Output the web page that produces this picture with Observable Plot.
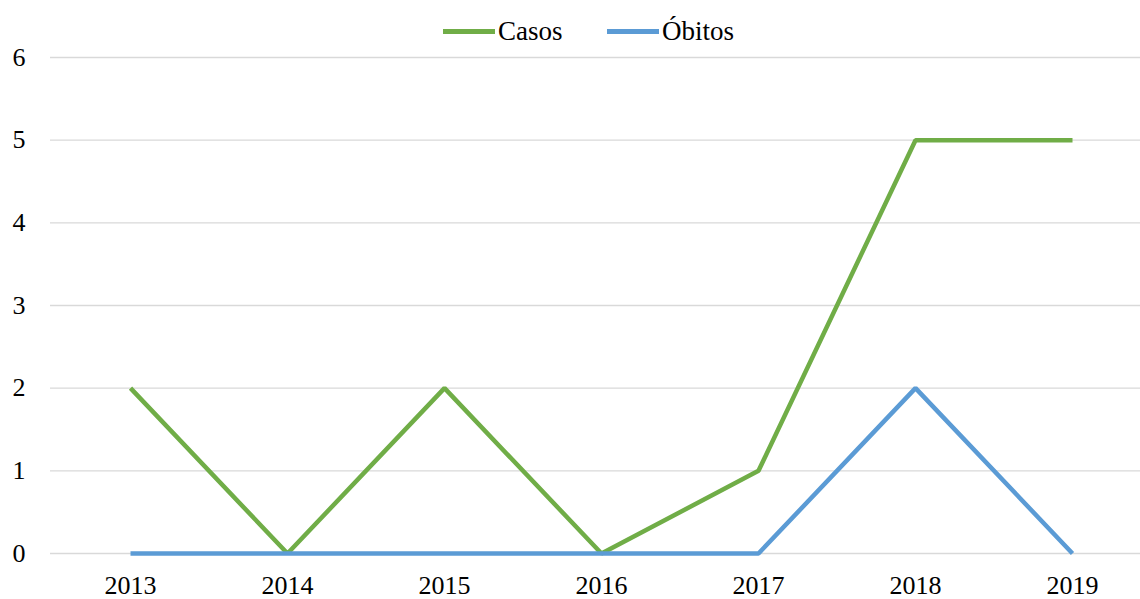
<!DOCTYPE html>
<html>
<head>
<meta charset="utf-8">
<script src="https://cdn.jsdelivr.net/npm/d3@7"></script>
<script src="https://cdn.jsdelivr.net/npm/@observablehq/plot@0.6"></script>
<style>
  html, body { margin: 0; padding: 0; background: #fff; }
  #wrap { position: relative; width: 1140px; height: 599px; font-family: "Liberation Serif", "Times New Roman", serif; }
  #legend { position: absolute; left: 0; top: 0; width: 1140px; height: 40px; }
  .item { position: absolute; top: 15px; display: flex; align-items: center; font-size: 27px; color: #000; line-height: 32px; }
  .swatch { display: inline-block; width: 52px; height: 5px; margin-right: 3px; }
</style>
</head>
<body>
<div id="wrap">
  <div id="chart"></div>
  <div id="legend"></div>
</div>
<script>
const years = ["2013", "2014", "2015", "2016", "2017", "2018", "2019"];
const casos = [2, 0, 2, 0, 1, 5, 5];
const obitos = [0, 0, 0, 0, 0, 2, 0];
const yTicks = [0, 1, 2, 3, 4, 5, 6];
const seriesNames = ["Casos", "Óbitos"];
const seriesColors = ["#70AD47", "#5B9BD5"];

const rows = [];
years.forEach((yr, i) => {
  rows.push({year: yr, value: casos[i], series: seriesNames[0]});
});
years.forEach((yr, i) => {
  rows.push({year: yr, value: obitos[i], series: seriesNames[1]});
});

const chart = Plot.plot({
  width: 1140,
  height: 599,
  marginTop: 57,
  marginBottom: 46,
  marginLeft: 50,
  marginRight: 0,
  style: {fontFamily: '"Liberation Serif", "Times New Roman", serif', fontSize: "26px", color: "#000", background: "#fff"},
  x: {type: "point", domain: years, range: [129, 1073], padding: 0, label: null},
  y: {domain: [0, 6], ticks: yTicks, label: null},
  color: {domain: seriesNames, range: seriesColors},
  marks: [
    Plot.ruleY(yTicks, {stroke: "#d9d9d9", strokeWidth: 1.3}),
    Plot.axisY({ticks: yTicks, tickFormat: "d", tickSize: 0, tickPadding: 25, label: null, fontSize: 26}),
    Plot.axisX({tickSize: 0, tickPadding: 22, label: null, fontSize: 26}),
    Plot.line(rows, {x: "year", y: "value", z: "series", stroke: "series", strokeWidth: 4.5, strokeLinejoin: "miter", strokeLinecap: "butt"})
  ]
});
document.getElementById("chart").appendChild(chart);

const legend = document.getElementById("legend");
const lefts = [443, 607];
seriesNames.forEach((name, i) => {
  const it = document.createElement("div");
  it.className = "item";
  it.style.left = lefts[i] + "px";
  const sw = document.createElement("span");
  sw.className = "swatch";
  sw.style.background = seriesColors[i];
  it.appendChild(sw);
  const t = document.createElement("span");
  t.textContent = name;
  it.appendChild(t);
  legend.appendChild(it);
});
</script>
</body>
</html>
